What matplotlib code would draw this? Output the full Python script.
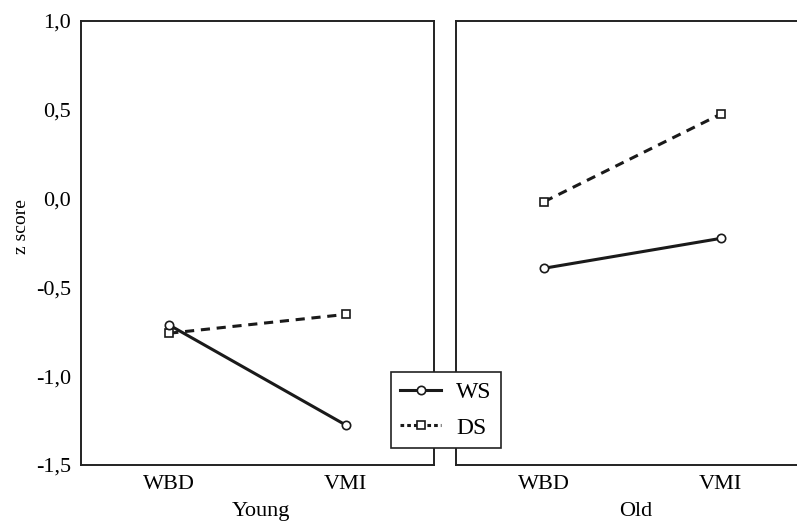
import matplotlib
matplotlib.use("Agg")
import matplotlib.pyplot as plt
from matplotlib.lines import Line2D

plt.rcParams["font.family"] = ["Liberation Serif", "DejaVu Serif"]

# ── 数据 ──
tasks = ["WBD", "VMI"]
groups = ["Young", "Old"]
ws_young = [-0.712, -1.275]
ds_young = [-0.758, -0.652]
ws_old = [-0.392, -0.224]
ds_old = [-0.017, 0.476]
yticks = [-1.5, -1.0, -0.5, 0.0, 0.5, 1.0]
ytick_labels = ["-1,5", "-1,0", "-0,5", "0,0", "0,5", "1,0"]

W, H = 797, 522
fig = plt.figure(figsize=(W / 100, H / 100), dpi=100)

ax_w = 353 / W
ax_b = (H - 465) / H
ax_h = 444 / H
ax1 = fig.add_axes([81 / W, ax_b, ax_w, ax_h])
ax2 = fig.add_axes([456 / W, ax_b, ax_w, ax_h])

lw = 2.2
ms = 6
for ax, ws, ds, grp in [(ax1, ws_young, ds_young, "Young"), (ax2, ws_old, ds_old, "Old")]:
    x = list(range(len(tasks)))
    ax.plot(x, ds, color="#1a1a1a", lw=lw, ls=(0, (3.0, 2.2)), marker="s", ms=ms,
            mfc="white", mec="#1a1a1a", mew=1.2)
    ax.plot(x, ws, color="#1a1a1a", lw=lw, ls="-", marker="o", ms=ms,
            mfc="white", mec="#1a1a1a", mew=1.2)
    ax.set_xlim(-0.5, 1.5)
    ax.set_ylim(-1.5, 1.0)
    ax.set_xticks(x)
    ax.set_xticklabels(tasks, fontsize=16)
    ax.set_yticks(yticks)
    ax.tick_params(length=0, pad=7)
    for s in ax.spines.values():
        s.set_linewidth(1.4)
        s.set_color("#222222")
    # 组名放在图底部
    fig.text((ax.get_position().x0 + ax.get_position().x1) / 2 + 3 / W, 6 / H, grp,
             ha="center", va="baseline", fontsize=16)

ax1.set_yticklabels(ytick_labels, fontsize=16)
ax2.set_yticklabels([])
fig.text(22 / W, 1 - 227 / H, "z score", rotation=90, ha="center", va="center", fontsize=14)

handles = [
    Line2D([], [], color="#1a1a1a", lw=lw, marker="o", ms=ms, mfc="white", mew=1.2),
    Line2D([], [], color="#1a1a1a", lw=lw, ls=(0, (1.2, 1.0)), marker="s", ms=ms, mfc="white", mew=1.2),
]
leg = fig.legend(handles, ["WS", "DS"], loc="upper left",
                 bbox_to_anchor=(391 / W, 1 - 372 / H), borderaxespad=0,
                 fontsize=17, frameon=True, fancybox=False, framealpha=1,
                 edgecolor="#222222", handlelength=1.7, handletextpad=0.67,
                 borderpad=0.4, labelspacing=0.6)
leg.get_frame().set_linewidth(1.2)

fig.savefig("out.png", dpi=100)
